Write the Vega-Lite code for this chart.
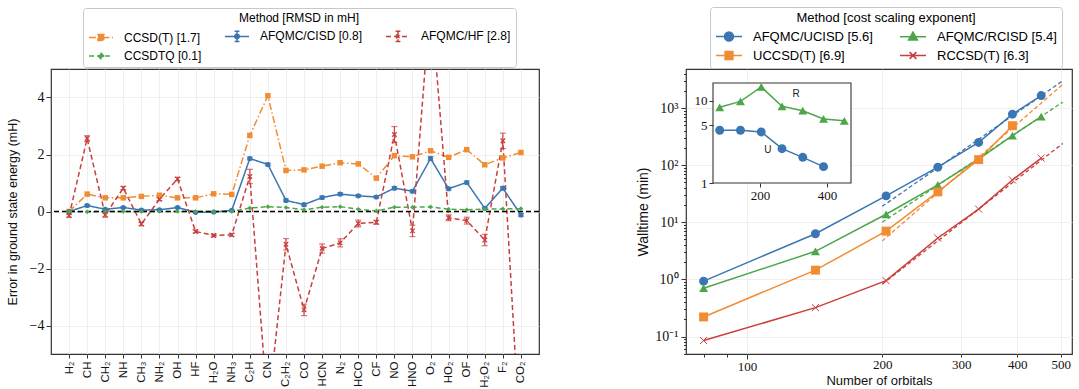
{
  "$schema": "https://vega.github.io/schema/vega-lite/v6.json",
  "padding": {"left": 5, "top": 5, "right": 0, "bottom": 0},
  "background": "white",
  "bounds": "flush",
  "spacing": 147,
  "config": {
    "view": {"stroke": "#333333", "strokeWidth": 1.2},
    "axis": {"domain": false, "tickColor": "#333333", "gridColor": "#ebebeb", "gridWidth": 0.8, "labelColor": "#111111", "titleColor": "#111111", "titleFontWeight": "normal"}
  },
  "resolve": {"scale": {"color": "independent", "shape": "independent", "strokeDash": "independent", "size": "independent"}, "legend": {"color": "independent"}},
  "datasets": {
    "left": [
      {"i":0,"mol":"H₂","m":"CCSD(T) [1.7]","E":0},
      {"i":1,"mol":"CH","m":"CCSD(T) [1.7]","E":0.61},
      {"i":2,"mol":"CH₂","m":"CCSD(T) [1.7]","E":0.48},
      {"i":3,"mol":"NH","m":"CCSD(T) [1.7]","E":0.48},
      {"i":4,"mol":"CH₃","m":"CCSD(T) [1.7]","E":0.53},
      {"i":5,"mol":"NH₂","m":"CCSD(T) [1.7]","E":0.57},
      {"i":6,"mol":"OH","m":"CCSD(T) [1.7]","E":0.48},
      {"i":7,"mol":"HF","m":"CCSD(T) [1.7]","E":0.48},
      {"i":8,"mol":"H₂O","m":"CCSD(T) [1.7]","E":0.62},
      {"i":9,"mol":"NH₃","m":"CCSD(T) [1.7]","E":0.6},
      {"i":10,"mol":"C₂H","m":"CCSD(T) [1.7]","E":2.67},
      {"i":11,"mol":"CN","m":"CCSD(T) [1.7]","E":4.06},
      {"i":12,"mol":"C₂H₂","m":"CCSD(T) [1.7]","E":1.44},
      {"i":13,"mol":"CO","m":"CCSD(T) [1.7]","E":1.46},
      {"i":14,"mol":"HCN","m":"CCSD(T) [1.7]","E":1.59},
      {"i":15,"mol":"N₂","m":"CCSD(T) [1.7]","E":1.71},
      {"i":16,"mol":"HCO","m":"CCSD(T) [1.7]","E":1.67},
      {"i":17,"mol":"CF","m":"CCSD(T) [1.7]","E":1.17},
      {"i":18,"mol":"NO","m":"CCSD(T) [1.7]","E":1.96},
      {"i":19,"mol":"HNO","m":"CCSD(T) [1.7]","E":1.92},
      {"i":20,"mol":"O₂","m":"CCSD(T) [1.7]","E":2.13},
      {"i":21,"mol":"HO₂","m":"CCSD(T) [1.7]","E":1.9},
      {"i":22,"mol":"OF","m":"CCSD(T) [1.7]","E":2.17},
      {"i":23,"mol":"H₂O₂","m":"CCSD(T) [1.7]","E":1.64},
      {"i":24,"mol":"F₂","m":"CCSD(T) [1.7]","E":1.88},
      {"i":25,"mol":"CO₂","m":"CCSD(T) [1.7]","E":2.07},
      {"i":0,"mol":"H₂","m":"AFQMC/CISD [0.8]","E":0,"err":0.02},
      {"i":1,"mol":"CH","m":"AFQMC/CISD [0.8]","E":0.21,"err":0.04},
      {"i":2,"mol":"CH₂","m":"AFQMC/CISD [0.8]","E":0.08,"err":0.03},
      {"i":3,"mol":"NH","m":"AFQMC/CISD [0.8]","E":0.14,"err":0.03},
      {"i":4,"mol":"CH₃","m":"AFQMC/CISD [0.8]","E":0.05,"err":0.03},
      {"i":5,"mol":"NH₂","m":"AFQMC/CISD [0.8]","E":0.06,"err":0.03},
      {"i":6,"mol":"OH","m":"AFQMC/CISD [0.8]","E":0.14,"err":0.03},
      {"i":7,"mol":"HF","m":"AFQMC/CISD [0.8]","E":-0.03,"err":0.02},
      {"i":8,"mol":"H₂O","m":"AFQMC/CISD [0.8]","E":-0.02,"err":0.02},
      {"i":9,"mol":"NH₃","m":"AFQMC/CISD [0.8]","E":0.04,"err":0.02},
      {"i":10,"mol":"C₂H","m":"AFQMC/CISD [0.8]","E":1.86,"err":0.05},
      {"i":11,"mol":"CN","m":"AFQMC/CISD [0.8]","E":1.65,"err":0.05},
      {"i":12,"mol":"C₂H₂","m":"AFQMC/CISD [0.8]","E":0.39,"err":0.05},
      {"i":13,"mol":"CO","m":"AFQMC/CISD [0.8]","E":0.24,"err":0.05},
      {"i":14,"mol":"HCN","m":"AFQMC/CISD [0.8]","E":0.49,"err":0.05},
      {"i":15,"mol":"N₂","m":"AFQMC/CISD [0.8]","E":0.61,"err":0.05},
      {"i":16,"mol":"HCO","m":"AFQMC/CISD [0.8]","E":0.55,"err":0.04},
      {"i":17,"mol":"CF","m":"AFQMC/CISD [0.8]","E":0.51,"err":0.04},
      {"i":18,"mol":"NO","m":"AFQMC/CISD [0.8]","E":0.82,"err":0.05},
      {"i":19,"mol":"HNO","m":"AFQMC/CISD [0.8]","E":0.71,"err":0.05},
      {"i":20,"mol":"O₂","m":"AFQMC/CISD [0.8]","E":1.86,"err":0.07},
      {"i":21,"mol":"HO₂","m":"AFQMC/CISD [0.8]","E":0.8,"err":0.05},
      {"i":22,"mol":"OF","m":"AFQMC/CISD [0.8]","E":1.02,"err":0.05},
      {"i":23,"mol":"H₂O₂","m":"AFQMC/CISD [0.8]","E":0.11,"err":0.04},
      {"i":24,"mol":"F₂","m":"AFQMC/CISD [0.8]","E":0.82,"err":0.05},
      {"i":25,"mol":"CO₂","m":"AFQMC/CISD [0.8]","E":-0.12,"err":0.05},
      {"i":0,"mol":"H₂","m":"AFQMC/HF [2.8]","E":-0.15,"err":0.05},
      {"i":1,"mol":"CH","m":"AFQMC/HF [2.8]","E":2.56,"err":0.1},
      {"i":2,"mol":"CH₂","m":"AFQMC/HF [2.8]","E":-0.12,"err":0.08},
      {"i":3,"mol":"NH","m":"AFQMC/HF [2.8]","E":0.82,"err":0.06},
      {"i":4,"mol":"CH₃","m":"AFQMC/HF [2.8]","E":-0.44,"err":0.06},
      {"i":5,"mol":"NH₂","m":"AFQMC/HF [2.8]","E":0.43,"err":0.05},
      {"i":6,"mol":"OH","m":"AFQMC/HF [2.8]","E":1.14,"err":0.06},
      {"i":7,"mol":"HF","m":"AFQMC/HF [2.8]","E":-0.7,"err":0.05},
      {"i":8,"mol":"H₂O","m":"AFQMC/HF [2.8]","E":-0.84,"err":0.05},
      {"i":9,"mol":"NH₃","m":"AFQMC/HF [2.8]","E":-0.82,"err":0.05},
      {"i":10,"mol":"C₂H","m":"AFQMC/HF [2.8]","E":1.23,"err":0.25},
      {"i":11,"mol":"CN","m":"AFQMC/HF [2.8]","E":-7.0,"err":0.3},
      {"i":12,"mol":"C₂H₂","m":"AFQMC/HF [2.8]","E":-1.15,"err":0.2},
      {"i":13,"mol":"CO","m":"AFQMC/HF [2.8]","E":-3.45,"err":0.2},
      {"i":14,"mol":"HCN","m":"AFQMC/HF [2.8]","E":-1.3,"err":0.16},
      {"i":15,"mol":"N₂","m":"AFQMC/HF [2.8]","E":-1.1,"err":0.14},
      {"i":16,"mol":"HCO","m":"AFQMC/HF [2.8]","E":-0.42,"err":0.12},
      {"i":17,"mol":"CF","m":"AFQMC/HF [2.8]","E":-0.38,"err":0.07},
      {"i":18,"mol":"NO","m":"AFQMC/HF [2.8]","E":2.7,"err":0.28},
      {"i":19,"mol":"HNO","m":"AFQMC/HF [2.8]","E":-0.68,"err":0.2},
      {"i":20,"mol":"O₂","m":"AFQMC/HF [2.8]","E":7.5,"err":0.3},
      {"i":21,"mol":"HO₂","m":"AFQMC/HF [2.8]","E":-0.22,"err":0.1},
      {"i":22,"mol":"OF","m":"AFQMC/HF [2.8]","E":-0.32,"err":0.12},
      {"i":23,"mol":"H₂O₂","m":"AFQMC/HF [2.8]","E":-1.0,"err":0.2},
      {"i":24,"mol":"F₂","m":"AFQMC/HF [2.8]","E":2.48,"err":0.27},
      {"i":25,"mol":"CO₂","m":"AFQMC/HF [2.8]","E":-8.5,"err":0.3},
      {"i":0,"mol":"H₂","m":"CCSDTQ [0.1]","E":0},
      {"i":1,"mol":"CH","m":"CCSDTQ [0.1]","E":-0.01},
      {"i":2,"mol":"CH₂","m":"CCSDTQ [0.1]","E":0},
      {"i":3,"mol":"NH","m":"CCSDTQ [0.1]","E":0},
      {"i":4,"mol":"CH₃","m":"CCSDTQ [0.1]","E":0},
      {"i":5,"mol":"NH₂","m":"CCSDTQ [0.1]","E":0},
      {"i":6,"mol":"OH","m":"CCSDTQ [0.1]","E":0},
      {"i":7,"mol":"HF","m":"CCSDTQ [0.1]","E":0},
      {"i":8,"mol":"H₂O","m":"CCSDTQ [0.1]","E":0},
      {"i":9,"mol":"NH₃","m":"CCSDTQ [0.1]","E":0},
      {"i":10,"mol":"C₂H","m":"CCSDTQ [0.1]","E":0.12},
      {"i":11,"mol":"CN","m":"CCSDTQ [0.1]","E":0.17},
      {"i":12,"mol":"C₂H₂","m":"CCSDTQ [0.1]","E":0.14},
      {"i":13,"mol":"CO","m":"CCSDTQ [0.1]","E":0.06},
      {"i":14,"mol":"HCN","m":"CCSDTQ [0.1]","E":0.15},
      {"i":15,"mol":"N₂","m":"CCSDTQ [0.1]","E":0.17},
      {"i":16,"mol":"HCO","m":"CCSDTQ [0.1]","E":0.08},
      {"i":17,"mol":"CF","m":"CCSDTQ [0.1]","E":0.02},
      {"i":18,"mol":"NO","m":"CCSDTQ [0.1]","E":0.15},
      {"i":19,"mol":"HNO","m":"CCSDTQ [0.1]","E":0.15},
      {"i":20,"mol":"O₂","m":"CCSDTQ [0.1]","E":0.16},
      {"i":21,"mol":"HO₂","m":"CCSDTQ [0.1]","E":0.08},
      {"i":22,"mol":"OF","m":"CCSDTQ [0.1]","E":0.06},
      {"i":23,"mol":"H₂O₂","m":"CCSDTQ [0.1]","E":0.08},
      {"i":24,"mol":"F₂","m":"CCSDTQ [0.1]","E":0.09},
      {"i":25,"mol":"CO₂","m":"CCSDTQ [0.1]","E":0.1}
    ],
    "right": [
      {"n":80,"t":0.93,"m":"AFQMC/UCISD [5.6]"},
      {"n":142,"t":6.3,"m":"AFQMC/UCISD [5.6]"},
      {"n":204,"t":29,"m":"AFQMC/UCISD [5.6]"},
      {"n":266,"t":92,"m":"AFQMC/UCISD [5.6]"},
      {"n":328,"t":250,"m":"AFQMC/UCISD [5.6]"},
      {"n":390,"t":780,"m":"AFQMC/UCISD [5.6]"},
      {"n":452,"t":1650,"m":"AFQMC/UCISD [5.6]"},
      {"n":80,"t":0.7,"m":"AFQMC/RCISD [5.4]"},
      {"n":142,"t":3.1,"m":"AFQMC/RCISD [5.4]"},
      {"n":204,"t":13.8,"m":"AFQMC/RCISD [5.4]"},
      {"n":266,"t":45,"m":"AFQMC/RCISD [5.4]"},
      {"n":328,"t":128,"m":"AFQMC/RCISD [5.4]"},
      {"n":390,"t":330,"m":"AFQMC/RCISD [5.4]"},
      {"n":452,"t":710,"m":"AFQMC/RCISD [5.4]"},
      {"n":80,"t":0.22,"m":"UCCSD(T) [6.9]"},
      {"n":142,"t":1.45,"m":"UCCSD(T) [6.9]"},
      {"n":204,"t":7.0,"m":"UCCSD(T) [6.9]"},
      {"n":266,"t":34,"m":"UCCSD(T) [6.9]"},
      {"n":328,"t":125,"m":"UCCSD(T) [6.9]"},
      {"n":390,"t":490,"m":"UCCSD(T) [6.9]"},
      {"n":80,"t":0.085,"m":"RCCSD(T) [6.3]"},
      {"n":142,"t":0.32,"m":"RCCSD(T) [6.3]"},
      {"n":204,"t":0.95,"m":"RCCSD(T) [6.3]"},
      {"n":266,"t":5.3,"m":"RCCSD(T) [6.3]"},
      {"n":328,"t":17,"m":"RCCSD(T) [6.3]"},
      {"n":390,"t":55,"m":"RCCSD(T) [6.3]"},
      {"n":452,"t":133,"m":"RCCSD(T) [6.3]"}
    ],
    "fits": [
      {"n":200,"t":19,"m":"AFQMC/UCISD [5.6]"},
      {"n":505,"t":3000,"m":"AFQMC/UCISD [5.6]"},
      {"n":200,"t":10,"m":"AFQMC/RCISD [5.4]"},
      {"n":505,"t":1270,"m":"AFQMC/RCISD [5.4]"},
      {"n":200,"t":4.7,"m":"UCCSD(T) [6.9]"},
      {"n":505,"t":2600,"m":"UCCSD(T) [6.9]"},
      {"n":200,"t":0.82,"m":"RCCSD(T) [6.3]"},
      {"n":505,"t":240,"m":"RCCSD(T) [6.3]"}
    ],
    "inset": [
      {"n":80,"r":4.37,"s":"U"},
      {"n":142,"r":4.37,"s":"U"},
      {"n":204,"r":4.17,"s":"U"},
      {"n":266,"r":2.61,"s":"U"},
      {"n":328,"r":2.05,"s":"U"},
      {"n":390,"r":1.58,"s":"U"},
      {"n":80,"r":8.3,"s":"R"},
      {"n":142,"r":9.8,"s":"R"},
      {"n":204,"r":14.7,"s":"R"},
      {"n":266,"r":8.55,"s":"R"},
      {"n":328,"r":7.56,"s":"R"},
      {"n":390,"r":6.0,"s":"R"},
      {"n":452,"r":5.7,"s":"R"}
    ]
  },
  "hconcat": [
    {
      "width": 488,
      "height": 285,
      "data": {"name": "left"},
      "layer": [
        {
          "mark": {"type": "line", "strokeWidth": 1.5, "clip": true},
          "encoding": {
            "x": {"field": "mol", "type": "ordinal",
              "scale": {"type": "point", "padding": 1.256, "domain": ["H₂","CH","CH₂","NH","CH₃","NH₂","OH","HF","H₂O","NH₃","C₂H","CN","C₂H₂","CO","HCN","N₂","HCO","CF","NO","HNO","O₂","HO₂","OF","H₂O₂","F₂","CO₂"]},
              "axis": {"title": null, "labelAngle": -90, "labelFont": "Liberation Sans", "labelFontSize": 11.5, "tickSize": 4, "labelPadding": 3, "grid": true}},
            "y": {"field": "E", "type": "quantitative",
              "scale": {"domain": [-5, 5], "nice": false, "zero": false},
              "axis": {"title": "Error in ground state energy (mH)", "values": [-4, -2, 0, 2, 4], "labelFont": "Liberation Serif", "labelFontSize": 14, "tickSize": 5, "labelPadding": 2, "titleFont": "Liberation Sans", "titleFontSize": 12.5, "titlePadding": 10, "grid": true}},
            "order": {"field": "i", "type": "quantitative"},
            "color": {"field": "m", "type": "nominal",
              "scale": {"domain": ["CCSD(T) [1.7]","AFQMC/CISD [0.8]","AFQMC/HF [2.8]","CCSDTQ [0.1]"], "range": ["#f28c32","#3a76b2","#c8403d","#4da64a"]},
              "legend": {
                "title": "Method [RMSD in mH]", "orient": "none", "legendX": 32, "legendY": -61, "columns": 3, "direction": "horizontal",
                "symbolSize": 144, "symbolStrokeWidth": 1.5,
                "labelFont": "Liberation Sans", "labelFontSize": 12, "labelOffset": 22, "labelLimit": 300,
                "titleFont": "Liberation Sans", "titleFontSize": 12, "titleFontWeight": "normal", "titleAnchor": "middle", "titlePadding": 4,
                "columnPadding": 20, "rowPadding": 4, "padding": 5,
                "strokeColor": "#c8c8c8", "fillColor": "white", "cornerRadius": 3,
                "encode": {"symbols": {"update": {
                  "shape": {"signal": "datum.value==='CCSD(T) [1.7]' ? 'M-1,0H3M0.5,-0.5H1.5V0.5H0.5Z' : datum.value==='AFQMC/CISD [0.8]' ? 'M-1,0H3M1,-0.85V0.85M0.6,-0.85H1.4M0.6,0.85H1.4M0.62,0A0.38,0.38 0 1,0 1.38,0A0.38,0.38 0 1,0 0.62,0Z' : datum.value==='AFQMC/HF [2.8]' ? 'M-1,0H3M1,-0.85V0.85M0.6,-0.85H1.4M0.6,0.85H1.4M0.66,-0.34L1.34,0.34M0.66,0.34L1.34,-0.34' : 'M-1,0H3M1,-0.5L1.45,0L1,0.5L0.55,0Z'"},
                  "stroke": {"signal": "datum.value==='CCSD(T) [1.7]' ? '#f28c32' : datum.value==='AFQMC/CISD [0.8]' ? '#3a76b2' : datum.value==='AFQMC/HF [2.8]' ? '#c8403d' : '#4da64a'"},
                  "fill": {"signal": "datum.value==='CCSD(T) [1.7]' ? '#f28c32' : datum.value==='AFQMC/CISD [0.8]' ? '#3a76b2' : datum.value==='AFQMC/HF [2.8]' ? '#c8403d' : '#4da64a'"},
                  "strokeDash": {"signal": "datum.value==='CCSD(T) [1.7]' ? [7,2.5,1.5,2.5] : datum.value==='AFQMC/CISD [0.8]' ? [1,0] : [5,3]"},
                  "opacity": {"value": 1}
                }}}
              }},
            "strokeDash": {"field": "m", "type": "nominal",
              "scale": {"domain": ["CCSD(T) [1.7]","AFQMC/CISD [0.8]","AFQMC/HF [2.8]","CCSDTQ [0.1]"], "range": [[7,2.5,1.5,2.5],[1,0],[5,3],[5,3]]},
              "legend": null}
          }
        },
        {
          "transform": [{"filter": "isValid(datum.err) && datum.E > -5 && datum.E < 5"}],
          "mark": {"type": "errorbar", "ticks": true, "size": 6, "thickness": 1.2},
          "encoding": {
            "x": {"field": "mol", "type": "ordinal",
              "axis": {"title": null, "labelAngle": -90, "labelFont": "Liberation Sans", "labelFontSize": 11.5, "tickSize": 4, "labelPadding": 3, "grid": true}},
            "y": {"field": "E", "type": "quantitative",
              "axis": {"title": "Error in ground state energy (mH)", "values": [-4, -2, 0, 2, 4], "labelFont": "Liberation Serif", "labelFontSize": 14, "tickSize": 5, "labelPadding": 2, "titleFont": "Liberation Sans", "titleFontSize": 12.5, "titlePadding": 10, "grid": true}},
            "yError": {"field": "err"},
            "color": {"field": "m", "type": "nominal",
              "scale": {"domain": ["CCSD(T) [1.7]","AFQMC/CISD [0.8]","AFQMC/HF [2.8]","CCSDTQ [0.1]"], "range": ["#f28c32","#3a76b2","#c8403d","#4da64a"]},
              "legend": null}
          }
        },
        {
          "data": {"values": [{}]},
          "mark": {"type": "rule", "color": "black", "strokeDash": [5, 3], "strokeWidth": 1.4},
          "encoding": {"y": {"datum": 0, "type": "quantitative",
              "axis": {"title": "Error in ground state energy (mH)", "values": [-4, -2, 0, 2, 4], "labelFont": "Liberation Serif", "labelFontSize": 14, "tickSize": 5, "labelPadding": 2, "titleFont": "Liberation Sans", "titleFontSize": 12.5, "titlePadding": 10, "grid": true}}}
        },
        {
          "transform": [{"filter": "datum.m !== 'AFQMC/HF [2.8]'"}],
          "mark": {"type": "point", "filled": true, "opacity": 1, "clip": true},
          "encoding": {
            "x": {"field": "mol", "type": "ordinal",
              "axis": {"title": null, "labelAngle": -90, "labelFont": "Liberation Sans", "labelFontSize": 11.5, "tickSize": 4, "labelPadding": 3, "grid": true}},
            "y": {"field": "E", "type": "quantitative",
              "axis": {"title": "Error in ground state energy (mH)", "values": [-4, -2, 0, 2, 4], "labelFont": "Liberation Serif", "labelFontSize": 14, "tickSize": 5, "labelPadding": 2, "titleFont": "Liberation Sans", "titleFontSize": 12.5, "titlePadding": 10, "grid": true}},
            "color": {"field": "m", "type": "nominal",
              "scale": {"domain": ["CCSD(T) [1.7]","AFQMC/CISD [0.8]","AFQMC/HF [2.8]","CCSDTQ [0.1]"], "range": ["#f28c32","#3a76b2","#c8403d","#4da64a"]},
              "legend": null},
            "shape": {"field": "m", "type": "nominal", "scale": {"domain": ["CCSD(T) [1.7]","AFQMC/CISD [0.8]","CCSDTQ [0.1]"], "range": ["square","circle","diamond"]}, "legend": null},
            "size": {"field": "m", "type": "nominal", "scale": {"domain": ["CCSD(T) [1.7]","AFQMC/CISD [0.8]","CCSDTQ [0.1]"], "range": [30, 22, 28]}, "legend": null}
          }
        },
        {
          "transform": [{"filter": "datum.m === 'AFQMC/HF [2.8]'"}],
          "mark": {"type": "point", "filled": false, "shape": "M-1,-1L1,1M-1,1L1,-1", "size": 20, "strokeWidth": 1.3, "opacity": 1, "clip": true},
          "encoding": {
            "x": {"field": "mol", "type": "ordinal",
              "axis": {"title": null, "labelAngle": -90, "labelFont": "Liberation Sans", "labelFontSize": 11.5, "tickSize": 4, "labelPadding": 3, "grid": true}},
            "y": {"field": "E", "type": "quantitative",
              "axis": {"title": "Error in ground state energy (mH)", "values": [-4, -2, 0, 2, 4], "labelFont": "Liberation Serif", "labelFontSize": 14, "tickSize": 5, "labelPadding": 2, "titleFont": "Liberation Sans", "titleFontSize": 12.5, "titlePadding": 10, "grid": true}},
            "color": {"field": "m", "type": "nominal",
              "scale": {"domain": ["CCSD(T) [1.7]","AFQMC/CISD [0.8]","AFQMC/HF [2.8]","CCSDTQ [0.1]"], "range": ["#f28c32","#3a76b2","#c8403d","#4da64a"]},
              "legend": null}
          }
        }
      ]
    },
    {
      "width": 386,
      "height": 285,
      "layer": [
        {
          "layer": [
            {
              "data": {"name": "right"},
              "mark": {"type": "line", "strokeWidth": 1.5},
              "encoding": {
                "x": {"field": "n", "type": "quantitative",
                  "scale": {"type": "log", "domain": [73.1, 529.4], "nice": false},
                  "axis": {"title": "Number of orbitals", "values": [80, 90, 100, 200, 300, 400, 500], "format": "d",
                    "labelExpr": "datum.value < 95 ? '' : datum.label", "labelOverlap": false,
                    "labelFont": "Liberation Serif", "labelFontSize": 13, "labelPadding": 1,
                    "titleFont": "Liberation Sans", "titleFontSize": 13, "titleY": 20, "titleBaseline": "top",
                    "tickSize": {"condition": {"test": "datum.value === 100", "value": 5}, "value": 3},
                    "grid": true, "gridOpacity": {"condition": {"test": "datum.value >= 100", "value": 1}, "value": 0}}},
                "y": {"field": "t", "type": "quantitative",
                  "scale": {"type": "log", "domain": [0.0494, 4820], "nice": false},
                  "axis": {"title": "Walltime (min)",
                    "values": [0.05,0.06,0.07,0.08,0.09,0.1,0.2,0.3,0.4,0.5,0.6,0.7,0.8,0.9,1,2,3,4,5,6,7,8,9,10,20,30,40,50,60,70,80,90,100,200,300,400,500,600,700,800,900,1000,2000,3000,4000],
                    "labelExpr": "datum.value===0.1?'10⁻¹':datum.value===1?'10⁰':datum.value===10?'10¹':datum.value===100?'10²':datum.value===1000?'10³':''",
                    "labelOverlap": false, "labelFont": "Liberation Serif", "labelFontSize": 14, "labelPadding": 3,
                    "titleFont": "Liberation Sans", "titleFontSize": 14, "titlePadding": 4,
                    "tickSize": {"condition": {"test": "indexof([0.1,1,10,100,1000], datum.value) >= 0", "value": 5}, "value": 2.5},
                    "grid": true, "gridOpacity": {"condition": {"test": "indexof([0.1,1,10,100,1000], datum.value) >= 0", "value": 1}, "value": 0}}},
                "color": {"field": "m", "type": "nominal",
                  "scale": {"domain": ["AFQMC/UCISD [5.6]","AFQMC/RCISD [5.4]","UCCSD(T) [6.9]","RCCSD(T) [6.3]"], "range": ["#3a76b2","#4da64a","#f28c32","#c8403d"]},
                  "legend": {
                    "title": "Method [cost scaling exponent]", "orient": "none", "legendX": 24, "legendY": -62, "columns": 2, "direction": "horizontal",
                    "symbolSize": 169, "symbolStrokeWidth": 1.5,
                    "labelFont": "Liberation Sans", "labelFontSize": 13, "labelOffset": 23, "labelLimit": 300,
                    "titleFont": "Liberation Sans", "titleFontSize": 13, "titleFontWeight": "normal", "titleAnchor": "middle", "titlePadding": 4,
                    "columnPadding": 24, "rowPadding": 4, "padding": 5,
                    "strokeColor": "#c8c8c8", "fillColor": "white", "cornerRadius": 3,
                    "encode": {"symbols": {"update": {
                      "shape": {"signal": "datum.value==='AFQMC/UCISD [5.6]' ? 'M-1,0H3M0.31,0A0.69,0.69 0 1,0 1.69,0A0.69,0.69 0 1,0 0.31,0Z' : datum.value==='AFQMC/RCISD [5.4]' ? 'M-1,0H3M1,-0.72L1.68,0.5L0.32,0.5Z' : datum.value==='UCCSD(T) [6.9]' ? 'M-1,0H3M0.4,-0.6H1.6V0.6H0.4Z' : 'M-1,0H3M0.48,-0.52L1.52,0.52M0.48,0.52L1.52,-0.52'"},
                      "stroke": {"signal": "datum.value==='AFQMC/UCISD [5.6]' ? '#3a76b2' : datum.value==='AFQMC/RCISD [5.4]' ? '#4da64a' : datum.value==='UCCSD(T) [6.9]' ? '#f28c32' : '#c8403d'"},
                      "fill": {"signal": "datum.value==='AFQMC/UCISD [5.6]' ? '#3a76b2' : datum.value==='AFQMC/RCISD [5.4]' ? '#4da64a' : datum.value==='UCCSD(T) [6.9]' ? '#f28c32' : '#c8403d'"},
                      "opacity": {"value": 1}
                    }}}
                  }}
              }
            },
            {
              "data": {"name": "fits"},
              "mark": {"type": "line", "strokeWidth": 1.3, "strokeDash": [4, 2.5]},
              "encoding": {
                "x": {"field": "n", "type": "quantitative"},
                "y": {"field": "t", "type": "quantitative"},
                "color": {"field": "m", "type": "nominal",
                  "scale": {"domain": ["AFQMC/UCISD [5.6]","AFQMC/RCISD [5.4]","UCCSD(T) [6.9]","RCCSD(T) [6.3]"], "range": ["#3a76b2","#4da64a","#f28c32","#c8403d"]},
                  "legend": null}
              }
            },
            {
              "data": {"name": "right"},
              "transform": [{"filter": "datum.m !== 'RCCSD(T) [6.3]'"}],
              "mark": {"type": "point", "filled": true, "opacity": 1},
              "encoding": {
                "x": {"field": "n", "type": "quantitative"},
                "y": {"field": "t", "type": "quantitative"},
                "color": {"field": "m", "type": "nominal",
                  "scale": {"domain": ["AFQMC/UCISD [5.6]","AFQMC/RCISD [5.4]","UCCSD(T) [6.9]","RCCSD(T) [6.3]"], "range": ["#3a76b2","#4da64a","#f28c32","#c8403d"]},
                  "legend": null},
                "shape": {"field": "m", "type": "nominal", "scale": {"domain": ["AFQMC/UCISD [5.6]","AFQMC/RCISD [5.4]","UCCSD(T) [6.9]"], "range": ["circle","triangle-up","square"]}, "legend": null},
                "size": {"field": "m", "type": "nominal", "scale": {"domain": ["AFQMC/UCISD [5.6]","AFQMC/RCISD [5.4]","UCCSD(T) [6.9]"], "range": [80, 80, 64]}, "legend": null}
              }
            },
            {
              "data": {"name": "right"},
              "transform": [{"filter": "datum.m === 'RCCSD(T) [6.3]'"}],
              "mark": {"type": "point", "filled": false, "shape": "M-1,-1L1,1M-1,1L1,-1", "size": 50, "strokeWidth": 1, "opacity": 1},
              "encoding": {
                "x": {"field": "n", "type": "quantitative"},
                "y": {"field": "t", "type": "quantitative"},
                "color": {"field": "m", "type": "nominal",
                  "scale": {"domain": ["AFQMC/UCISD [5.6]","AFQMC/RCISD [5.4]","UCCSD(T) [6.9]","RCCSD(T) [6.3]"], "range": ["#3a76b2","#4da64a","#f28c32","#c8403d"]},
                  "legend": null}
              }
            }
          ]
        },
        {
          "layer": [
            {
              "data": {"values": [{"n": 60, "n1": 472, "r": 1, "r1": 16.4}]},
              "mark": {"type": "rect", "fill": "white", "stroke": "#333333", "strokeWidth": 1.1},
              "encoding": {
                "x": {"field": "n", "type": "quantitative",
                  "scale": {"domain": [60, 472], "range": [27, 165], "nice": false, "zero": false},
                  "axis": {"orient": "bottom", "offset": -171, "title": null, "values": [200, 400], "grid": false, "domain": false,
                    "labelFont": "Liberation Serif", "labelFontSize": 13, "tickSize": 4, "labelPadding": 2, "zindex": 1}},
                "x2": {"field": "n1"},
                "y": {"field": "r", "type": "quantitative",
                  "scale": {"type": "log", "domain": [1, 16.4], "range": [114, 14], "nice": false},
                  "axis": {"orient": "left", "offset": -27, "title": null, "values": [1, 5, 10], "format": "d", "grid": false, "domain": false,
                    "labelFont": "Liberation Serif", "labelFontSize": 13, "tickSize": 4, "labelPadding": 2, "zindex": 1}},
                "y2": {"field": "r1"}
              }
            },
            {
              "data": {"name": "inset"},
              "transform": [{"filter": "datum.s === 'R'"}],
              "mark": {"type": "line", "color": "#4da64a", "strokeWidth": 1.5, "point": {"shape": "triangle-up", "size": 80, "filled": true, "color": "#4da64a", "opacity": 1}},
              "encoding": {
                "x": {"field": "n", "type": "quantitative",
                  "axis": {"orient": "bottom", "offset": -171, "title": null, "values": [200, 400], "grid": false, "domain": false,
                    "labelFont": "Liberation Serif", "labelFontSize": 13, "tickSize": 4, "labelPadding": 2, "zindex": 1}},
                "y": {"field": "r", "type": "quantitative",
                  "axis": {"orient": "left", "offset": -27, "title": null, "values": [1, 5, 10], "format": "d", "grid": false, "domain": false,
                    "labelFont": "Liberation Serif", "labelFontSize": 13, "tickSize": 4, "labelPadding": 2, "zindex": 1}}
              }
            },
            {
              "data": {"name": "inset"},
              "transform": [{"filter": "datum.s === 'U'"}],
              "mark": {"type": "line", "color": "#3a76b2", "strokeWidth": 1.5, "point": {"shape": "circle", "size": 80, "filled": true, "color": "#3a76b2", "opacity": 1}},
              "encoding": {
                "x": {"field": "n", "type": "quantitative",
                  "axis": {"orient": "bottom", "offset": -171, "title": null, "values": [200, 400], "grid": false, "domain": false,
                    "labelFont": "Liberation Serif", "labelFontSize": 13, "tickSize": 4, "labelPadding": 2, "zindex": 1}},
                "y": {"field": "r", "type": "quantitative",
                  "axis": {"orient": "left", "offset": -27, "title": null, "values": [1, 5, 10], "format": "d", "grid": false, "domain": false,
                    "labelFont": "Liberation Serif", "labelFontSize": 13, "tickSize": 4, "labelPadding": 2, "zindex": 1}}
              }
            },
            {
              "data": {"values": [{"n": 308, "r": 12, "lab": "R"}, {"n": 224, "r": 2.54, "lab": "U"}]},
              "mark": {"type": "text", "font": "Liberation Sans", "fontSize": 10, "color": "#222222"},
              "encoding": {
                "x": {"field": "n", "type": "quantitative",
                  "axis": {"orient": "bottom", "offset": -171, "title": null, "values": [200, 400], "grid": false, "domain": false,
                    "labelFont": "Liberation Serif", "labelFontSize": 13, "tickSize": 4, "labelPadding": 2, "zindex": 1}},
                "y": {"field": "r", "type": "quantitative",
                  "axis": {"orient": "left", "offset": -27, "title": null, "values": [1, 5, 10], "format": "d", "grid": false, "domain": false,
                    "labelFont": "Liberation Serif", "labelFontSize": 13, "tickSize": 4, "labelPadding": 2, "zindex": 1}},
                "text": {"field": "lab"}
              }
            }
          ]
        }
      ],
      "resolve": {"scale": {"x": "independent", "y": "independent"}, "axis": {"x": "independent", "y": "independent"}}
    }
  ]
}
